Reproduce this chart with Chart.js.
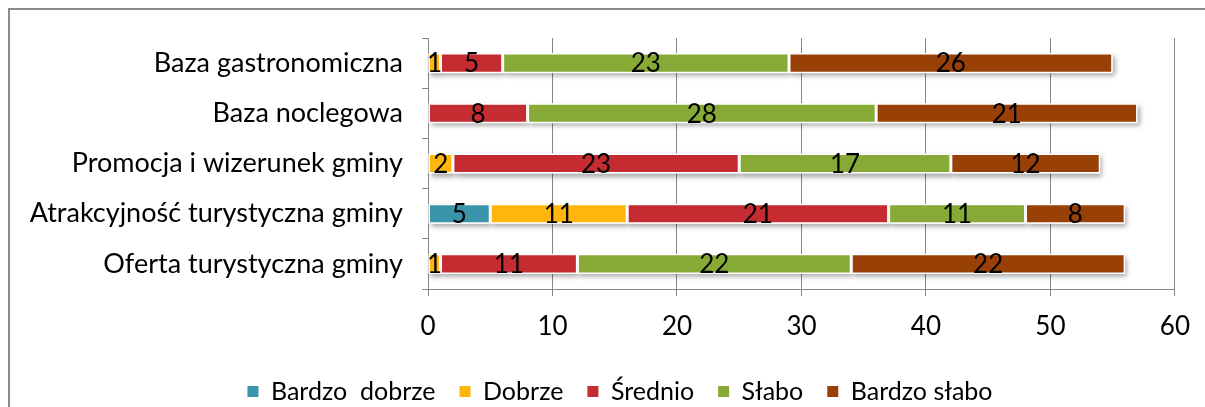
<!DOCTYPE html>
<html lang="pl">
<head>
  <meta charset="UTF-8" />
  <title>Ocena gminy</title>
  <script src="https://cdn.jsdelivr.net/npm/chart.js"></script>
  <style>
    html, body {
      margin: 0;
      padding: 0;
      background: #fff;
      overflow: hidden;
    }
    .frame {
      position: absolute;
      left: 8px;
      top: 8px;
      width: 1230px;
      height: 440px;
      border: 2px solid #8c8c8c;
    }
    .chart-box {
      position: absolute;
      left: 0;
      top: 0;
      width: 1205px;
      height: 407px;
    }
  </style>
</head>
<body>
  <div class="frame"></div>
  <div class="chart-box">
    <canvas id="ocenaChart"></canvas>
  </div>

  <script>
    // kategorie (od góry)
    const kategorie = ['Baza gastronomiczna', 'Baza noclegowa', 'Promocja i wizerunek gminy', 'Atrakcyjność turystyczna gminy', 'Oferta turystyczna gminy'];

    const bardzoDobrze = [0, 0, 0, 5, 0];
    const dobrze       = [1, 0, 2, 11, 1];
    const srednio      = [5, 8, 23, 21, 11];
    const slabo        = [23, 28, 17, 11, 22];
    const bardzoSlabo  = [26, 21, 12, 8, 22];

    const xTicks = [0, 10, 20, 30, 40, 50, 60];

    const FONT = "Lato, 'Open Sans', sans-serif";

    // cień pod słupkami + etykiety wartości
    const wartosciPlugin = {
      id: 'wartosci',
      afterLayout(chart) {
        // legenda wyśrodkowana jak w oryginale (przesunięta w prawo)
        if (chart.legend) chart.legend.left += 64;
      },
      beforeDatasetsDraw(chart) {
        const ctx = chart.ctx;
        ctx.save();
        ctx.shadowColor = 'rgba(0,0,0,0.35)';
        ctx.shadowBlur = 5;
        ctx.shadowOffsetX = 2;
        ctx.shadowOffsetY = 3;
        ctx.fillStyle = '#fff';
        chart.data.datasets.forEach((ds, i) => {
          chart.getDatasetMeta(i).data.forEach((bar, j) => {
            if (!ds.data[j]) return;
            const left = Math.min(bar.x, bar.base);
            const w = Math.abs(bar.x - bar.base);
            ctx.fillRect(left, bar.y - bar.height / 2, w, bar.height);
          });
        });
        ctx.restore();
      },
      afterDatasetsDraw(chart) {
        const ctx = chart.ctx;
        ctx.save();
        ctx.font = '26px ' + FONT;
        ctx.fillStyle = '#000';
        ctx.textAlign = 'center';
        ctx.textBaseline = 'middle';
        chart.data.datasets.forEach((ds, i) => {
          chart.getDatasetMeta(i).data.forEach((bar, j) => {
            const v = ds.data[j];
            if (!v) return;
            ctx.fillText(String(v), (bar.x + bar.base) / 2, bar.y + 1);
          });
        });
        ctx.restore();
      }
    };

    const serie = [
      { label: 'Bardzo  dobrze', data: bardzoDobrze, color: '#3c94aa' },
      { label: 'Dobrze',         data: dobrze,       color: '#ffb50c' },
      { label: 'Średnio',        data: srednio,      color: '#c52c31' },
      { label: 'Słabo',          data: slabo,        color: '#86aa35' },
      { label: 'Bardzo słabo',   data: bardzoSlabo,  color: '#984005' }
    ];

    new Chart(document.getElementById('ocenaChart'), {
      type: 'bar',
      data: {
        labels: kategorie,
        datasets: serie.map(s => ({
          label: s.label,
          data: s.data,
          backgroundColor: s.color,
          borderColor: '#ffffff',
          borderWidth: 1.5,
          borderSkipped: false,
          barPercentage: 0.4,
          categoryPercentage: 1
        }))
      },
      options: {
        indexAxis: 'y',
        responsive: true,
        maintainAspectRatio: false,
        animation: false,
        layout: { padding: { top: 38, right: 29, left: 0, bottom: -7 } },
        plugins: {
          legend: {
            position: 'bottom',
            labels: {
              color: '#000',
              font: { family: FONT, size: 25 },
              boxWidth: 11,
              boxHeight: 11,
              padding: 24,
              generateLabels(chart) {
                return chart.data.datasets.map((ds, i) => ({
                  text: ds.label,
                  fillStyle: ds.backgroundColor,
                  strokeStyle: ds.backgroundColor,
                  lineWidth: 0,
                  datasetIndex: i,
                  hidden: false
                }));
              }
            }
          },
          tooltip: { enabled: false }
        },
        scales: {
          x: {
            stacked: true,
            min: 0,
            max: 60,
            afterBuildTicks(scale) {
              scale.ticks = xTicks.map(v => ({ value: v }));
            },
            afterFit(scale) { scale.height = 66; },
            grid: {
              color: '#868686',
              lineWidth: 1,
              drawTicks: true,
              tickLength: 7,
              tickColor: '#868686'
            },
            border: { display: true, color: '#868686', width: 1 },
            ticks: {
              color: '#000',
              font: { family: FONT, size: 26 },
              padding: 15,
              maxRotation: 0
            }
          },
          y: {
            stacked: true,
            afterFit(scale) { scale.width = 428; },
            grid: {
              drawOnChartArea: false,
              drawTicks: true,
              tickLength: 6,
              tickColor: '#868686'
            },
            border: { display: true, color: '#868686', width: 1 },
            ticks: {
              color: '#000',
              font: { family: FONT, size: 27 },
              padding: 19
            }
          }
        }
      },
      plugins: [wartosciPlugin]
    });
  </script>
</body>
</html>
